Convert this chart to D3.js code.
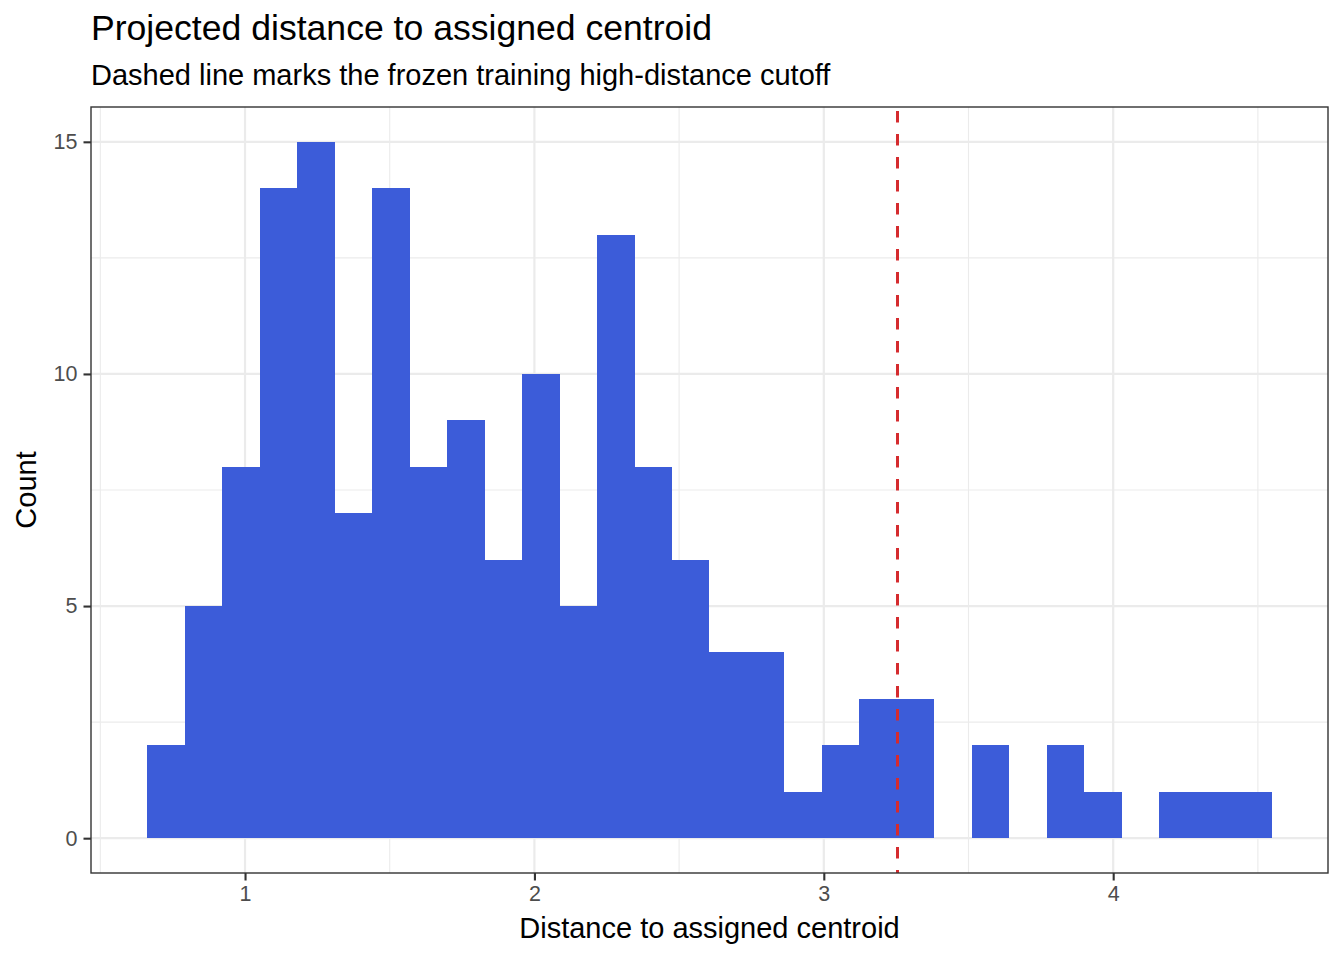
<!DOCTYPE html>
<html>
<head>
<meta charset="utf-8">
<script src="https://cdn.jsdelivr.net/npm/d3@7"></script>
<style>
  body { margin: 0; background: #fff; }
  text { font-family: "Liberation Sans", Arial, sans-serif; }
</style>
</head>
<body>
<div id="chart"></div>
<script>
// histogram counts, 30 equal bins between binMin and binMax
const counts = [2, 5, 8, 14, 15, 7, 14, 8, 9, 6, 10, 5, 13, 8, 6, 4, 4, 1, 2, 3, 3, 0, 2, 0, 2, 1, 0, 1, 1, 1];
const binMin = 0.662;
const binMax = 4.548;
const cutoff = 3.252;

const xTicks = [1, 2, 3, 4];
const xMinor = [0.5, 1.5, 2.5, 3.5, 4.5];
const yTicks = [0, 5, 10, 15];
const yMinor = [2.5, 7.5, 12.5];

const width = 1344;
const height = 960;
const panel = { left: 91, right: 1328, top: 107, bottom: 873 };

const barColor = '#3c5cd9';
const lineColor = '#d52b2e';

const svg = d3.select('#chart').append('svg')
    .attr('width', width)
    .attr('height', height);

// ggplot-style 5% expansion
const xExp = (binMax - binMin) * 0.05;
const x = d3.scaleLinear()
    .domain([binMin - xExp, binMax + xExp])
    .range([panel.left, panel.right]);

const yMax = d3.max(counts);
const y = d3.scaleLinear()
    .domain([-yMax * 0.05, yMax * 1.05])
    .range([panel.bottom, panel.top]);

const edge = d3.scaleLinear().domain([0, counts.length]).range([binMin, binMax]);
const bins = counts.map((c, i) => ({ x0: edge(i), x1: edge(i + 1), n: c }));

// grid
const grid = svg.append('g');
grid.selectAll('.xminor').data(xMinor).enter().append('line')
    .attr('x1', d => x(d)).attr('x2', d => x(d))
    .attr('y1', panel.top).attr('y2', panel.bottom)
    .attr('stroke', '#ebebeb').attr('stroke-width', 1.1);
grid.selectAll('.yminor').data(yMinor).enter().append('line')
    .attr('x1', panel.left).attr('x2', panel.right)
    .attr('y1', d => y(d)).attr('y2', d => y(d))
    .attr('stroke', '#ebebeb').attr('stroke-width', 1.1);
grid.selectAll('.xmajor').data(xTicks).enter().append('line')
    .attr('x1', d => x(d)).attr('x2', d => x(d))
    .attr('y1', panel.top).attr('y2', panel.bottom)
    .attr('stroke', '#ebebeb').attr('stroke-width', 2.2);
grid.selectAll('.ymajor').data(yTicks).enter().append('line')
    .attr('x1', panel.left).attr('x2', panel.right)
    .attr('y1', d => y(d)).attr('y2', d => y(d))
    .attr('stroke', '#ebebeb').attr('stroke-width', 2.2);

// bars
svg.append('g')
    .attr('shape-rendering', 'crispEdges')
    .selectAll('rect')
    .data(bins.filter(b => b.n > 0))
    .enter().append('rect')
    .attr('x', d => Math.round(x(d.x0)))
    .attr('width', d => Math.round(x(d.x1)) - Math.round(x(d.x0)))
    .attr('y', d => Math.round(y(d.n)))
    .attr('height', d => Math.round(y(0)) - Math.round(y(d.n)))
    .attr('fill', barColor);

// cutoff line
svg.append('line')
    .attr('x1', Math.round(x(cutoff)) + 0.5).attr('x2', Math.round(x(cutoff)) + 0.5)
    .attr('y1', panel.top).attr('y2', panel.bottom)
    .attr('stroke', lineColor)
    .attr('stroke-width', 3)
    .attr('stroke-dasharray', '11.5,11.5')
    .attr('stroke-dashoffset', -4);

// panel border
svg.append('rect')
    .attr('x', panel.left).attr('y', panel.top)
    .attr('width', panel.right - panel.left)
    .attr('height', panel.bottom - panel.top)
    .attr('fill', 'none')
    .attr('stroke', '#333333')
    .attr('stroke-width', 1.4);

// axes
const xAxis = svg.append('g')
    .attr('transform', `translate(0,${panel.bottom})`)
    .call(d3.axisBottom(x).tickValues(xTicks).tickSize(7.5).tickPadding(5).tickFormat(d3.format('d')));
const yAxis = svg.append('g')
    .attr('transform', `translate(${panel.left},0)`)
    .call(d3.axisLeft(y).tickValues(yTicks).tickSize(7.5).tickPadding(6).tickFormat(d3.format('d')));

[xAxis, yAxis].forEach(a => {
    a.select('.domain').remove();
    a.selectAll('.tick line').attr('stroke', '#333333').attr('stroke-width', 2.1);
    a.selectAll('.tick text')
        .attr('fill', '#4d4d4d')
        .style('font-size', '21.5px')
        .style('font-family', '"Liberation Sans", Arial, sans-serif');
});

// titles
svg.append('text')
    .attr('x', panel.left).attr('y', 40)
    .style('font-size', '35.6px')
    .attr('fill', '#000')
    .text('Projected distance to assigned centroid');

svg.append('text')
    .attr('x', panel.left).attr('y', 85)
    .style('font-size', '29px')
    .attr('fill', '#000')
    .text('Dashed line marks the frozen training high-distance cutoff');

svg.append('text')
    .attr('x', (panel.left + panel.right) / 2).attr('y', 938)
    .attr('text-anchor', 'middle')
    .style('font-size', '29px')
    .attr('fill', '#000')
    .text('Distance to assigned centroid');

svg.append('text')
    .attr('transform', `translate(36,${(panel.top + panel.bottom) / 2}) rotate(-90)`)
    .attr('text-anchor', 'middle')
    .style('font-size', '29px')
    .attr('fill', '#000')
    .text('Count');
</script>
</body>
</html>
